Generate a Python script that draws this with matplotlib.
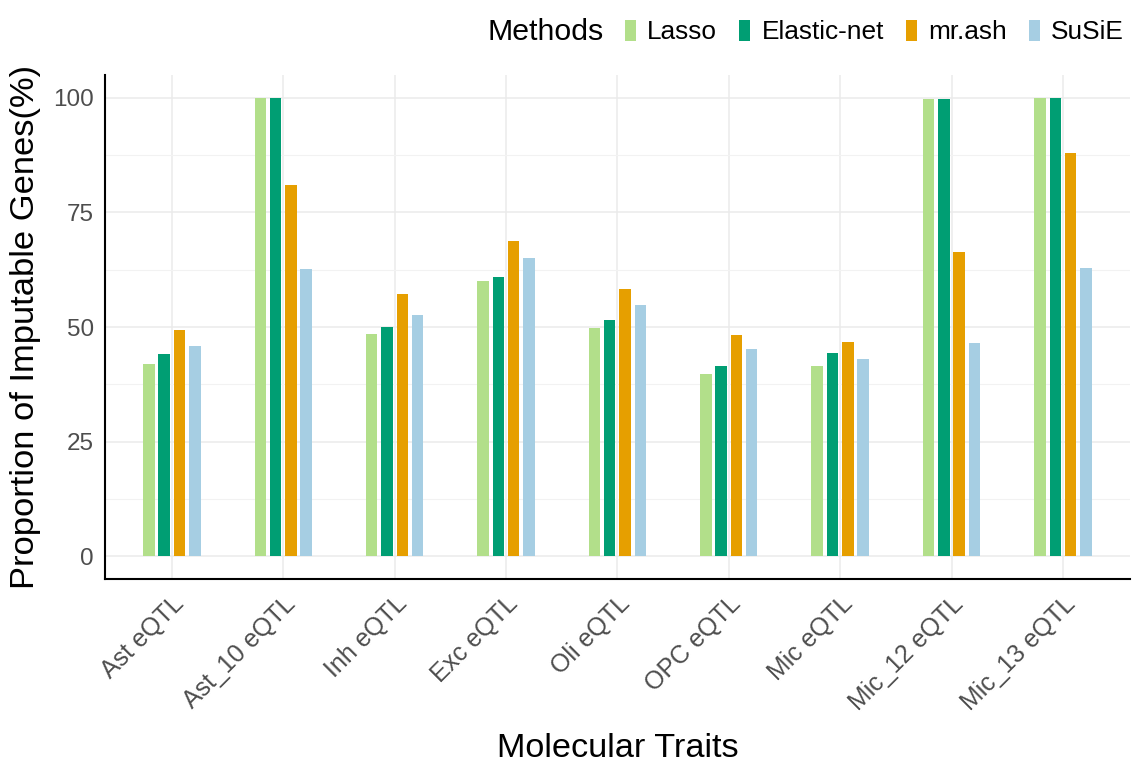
import numpy as np
import matplotlib
matplotlib.use('Agg')
import matplotlib.pyplot as plt
from matplotlib.patches import Patch

plt.rcParams['font.family'] = ['Liberation Sans', 'DejaVu Sans']

traits = ['Ast eQTL', 'Ast_10 eQTL', 'Inh eQTL', 'Exc eQTL', 'Oli eQTL',
          'OPC eQTL', 'Mic eQTL', 'Mic_12 eQTL', 'Mic_13 eQTL']
methods = ['Lasso', 'Elastic-net', 'mr.ash', 'SuSiE']
lasso   = [42.0, 100.0, 48.5, 60.0, 49.8, 39.8, 41.5, 99.8, 100.0]
enet    = [44.1, 100.0, 50.0, 60.9, 51.5, 41.5, 44.3, 99.8, 100.0]
mrash   = [49.4, 80.9, 57.2, 68.7, 58.3, 48.3, 46.7, 66.3, 88.0]
susie   = [45.9, 62.6, 52.6, 65.0, 54.8, 45.2, 43.0, 46.5, 62.8]
colors = ['#b2df8a', '#009e73', '#e69f00', '#a6cee3']

fig = plt.figure(figsize=(11.4, 7.8), dpi=100)
ax = fig.add_axes([0.0921, 0.2577, 0.8989, 0.6461])

x = np.arange(1, len(traits) + 1)
step, w = 0.1375, 0.103
for i, (vals, c) in enumerate(zip([lasso, enet, mrash, susie], colors)):
    ax.bar(x + (i - 1.5) * step, vals, w, color=c, zorder=3, linewidth=0)

ax.set_xlim(0.4, len(traits) + 0.6)
ax.set_ylim(-5, 105)
ax.set_yticks([0, 25, 50, 75, 100])
ax.set_yticks([12.5, 37.5, 62.5, 87.5], minor=True)
ax.set_xticks(x)
ax.set_xticklabels(traits, rotation=45, ha='right', va='top',
                   rotation_mode='anchor', fontsize=18, color='#4d4d4d')
ax.tick_params(axis='y', labelsize=17.5, labelcolor='#4d4d4d', length=0, pad=8)
ax.tick_params(axis='x', length=0, pad=9)
ax.tick_params(axis='y', which='minor', length=0)
ax.grid(True, which='major', color='#ebebeb', lw=1.1, zorder=0)
ax.grid(True, which='minor', axis='y', color='#f2f2f2', lw=0.8, zorder=0)
ax.set_axisbelow(True)
for s in ['top', 'right']:
    ax.spines[s].set_visible(False)
for s in ['left', 'bottom']:
    ax.spines[s].set_color('black')
    ax.spines[s].set_linewidth(1.5)

ax.set_xlabel('Molecular Traits', fontsize=24.7, labelpad=13)
ax.set_ylabel('Proportion of Imputable Genes(%)', fontsize=24.8, labelpad=9)

handles = [Patch(facecolor=c, edgecolor='none') for c in colors]
fig.text(487 / 1140, 0.959, 'Methods', fontsize=21.8, va='center', ha='left')
fig.legend(handles, methods, loc='center left', bbox_to_anchor=(625 / 1140, 0.959),
           ncol=4, frameon=False, fontsize=18.9, handlelength=0.42, handleheight=0.84,
           handletextpad=0.42, columnspacing=0.85, borderaxespad=0, borderpad=0)

fig.savefig('out.png', dpi=100)
